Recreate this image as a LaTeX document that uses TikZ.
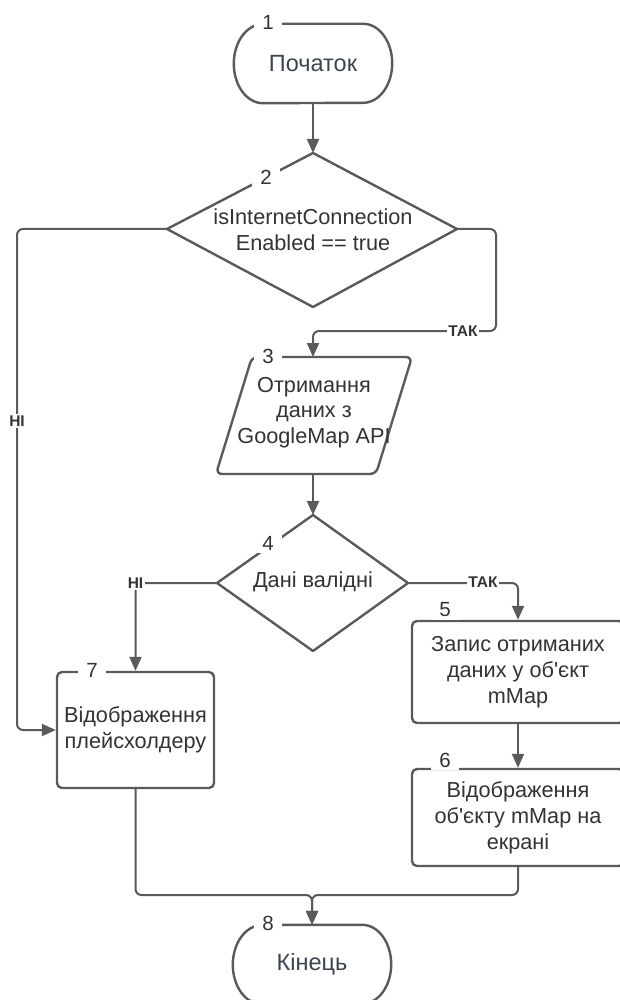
\documentclass[tikz,border=0pt]{standalone}
\usepackage{fontspec}
\setmainfont{Liberation Sans}
\usetikzlibrary{arrows.meta}
\definecolor{lineclr}{HTML}{5A5A5A}
\definecolor{txtclr}{HTML}{333333}
\definecolor{termtxt}{HTML}{3B4550}
\begin{document}
\begin{tikzpicture}[x=1pt,y=1pt,
 shapeline/.style={draw=lineclr, line width=2.4pt, line join=round},
 conn/.style={draw=lineclr, line width=2pt, rounded corners=6pt, -{Triangle[length=14pt,width=12pt]}},
 txt/.style={text=txtclr, font=\fontsize{21.7}{25.8}\selectfont, align=center, inner sep=0pt},
 termtext/.style={txt, text=termtxt, font=\fontsize{23.5}{28}\selectfont},
 num/.style={text=txtclr, font=\fontsize{20.5}{24}\selectfont, fill=white, inner xsep=8pt, inner ysep=3pt},
 lbl/.style={text=txtclr, font=\fontsize{15.5}{17}\selectfont\bfseries, fill=white, inner sep=1.5pt},
 procbox/.style={shapeline, rounded corners=5pt, txt}
]
\clip (0,0) rectangle (620,-1000);
\fill[white] (0,0) rectangle (620,-1000);

% 1 terminator
\node[termtext, minimum width=158, minimum height=79] (t1) at (313,-63.5) {Початок};
\draw[shapeline] ([xshift=29]t1.north west) -- ([xshift=-29]t1.north east)
  arc[start angle=90,end angle=-90,x radius=29,y radius=39.5]
  -- ([xshift=29]t1.south west)
  arc[start angle=270,end angle=90,x radius=29,y radius=39.5] -- cycle;
\node[num] (n1) at (268,-22) {1};

% 2 decision
\coordinate (d2t) at (313,-153);
\coordinate (d2r) at (457,-229);
\coordinate (d2b) at (313,-307);
\coordinate (d2l) at (167,-229);
\draw[shapeline] (d2t) -- (d2r) -- (d2b) -- (d2l) -- cycle;
\node[txt] (d2) at (313,-229.5) {isInternetConnection\\Enabled == true};
\node[num] (n2) at (266,-177) {2};

% 3 data (parallelogram)
\coordinate (p3t) at (313,-357);
\coordinate (p3b) at (313,-474);
\draw[shapeline, rounded corners=6pt] (252,-357) -- (412,-357) -- (376,-474) -- (216,-474) -- cycle;
\node[txt] (p3) at (314,-412.5) {Отримання\\даних з\\GoogleMap API};
\node[num] (n3) at (268,-356) {3};

% 4 decision
\coordinate (d4t) at (313,-515);
\coordinate (d4r) at (408,-583);
\coordinate (d4b) at (313,-651);
\coordinate (d4l) at (217,-583);
\draw[shapeline] (d4t) -- (d4r) -- (d4b) -- (d4l) -- cycle;
\node[txt] (d4) at (313,-582) {Дані валідні};
\node[num] (n4) at (268,-543) {4};

% 5, 6, 7 process boxes
\node[procbox, minimum width=212, minimum height=102] (b5) at (518,-672) {Запис отриманих\\даних у об\textquotesingle єкт\\mMap};
\node[num] (n5) at (445,-610) {5};
\node[procbox, minimum width=212, minimum height=97] (b6) at (518,-817.5) {Відображення\\об\textquotesingle єкту mMap на\\екрані};
\node[num] (n6) at (445,-760) {6};
\node[procbox, minimum width=157, minimum height=116] (b7) at (135.5,-730) {Відображення\\плейсхолдеру};
\node[num] (n7) at (92,-670) {7};

% 8 terminator
\node[termtext, minimum width=158, minimum height=79] (t8) at (312,-964.5) {Кінець};
\draw[shapeline] ([xshift=29]t8.north west) -- ([xshift=-29]t8.north east)
  arc[start angle=90,end angle=-90,x radius=29,y radius=39.5]
  -- ([xshift=29]t8.south west)
  arc[start angle=270,end angle=90,x radius=29,y radius=39.5] -- cycle;
\node[num] (n8) at (268,-923) {8};

% connectors
\coordinate (m) at (312,-895);
\draw[conn] (t1.south) -- (d2t);
\draw[conn] (d2r) -- (496,-229) -- (496,-331) -- (313,-331) -- (p3t);
\node[lbl] (l1) at (463,-331) {ТАК};
\draw[conn] (d2l) -- (17,-229) -- (17,-730) -- (b7.west);
\node[lbl] (l2) at (17,-421) {НІ};
\draw[conn] (p3b) -- (d4t);
\draw[conn] (d4l) -- (135.5,-583) -- (b7.north);
\node[lbl] (l3) at (135.5,-583) {НІ};
\draw[conn] (d4r) -- (518,-583) -- (b5.north);
\node[lbl] (l4) at (483,-582) {ТАК};
\draw[conn] (b5) -- (b6);
\draw[conn] (b7.south) |- (m) -- (t8.north);
\draw[conn] (b6.south) |- (m) -- (t8.north);
\end{tikzpicture}
\end{document}
